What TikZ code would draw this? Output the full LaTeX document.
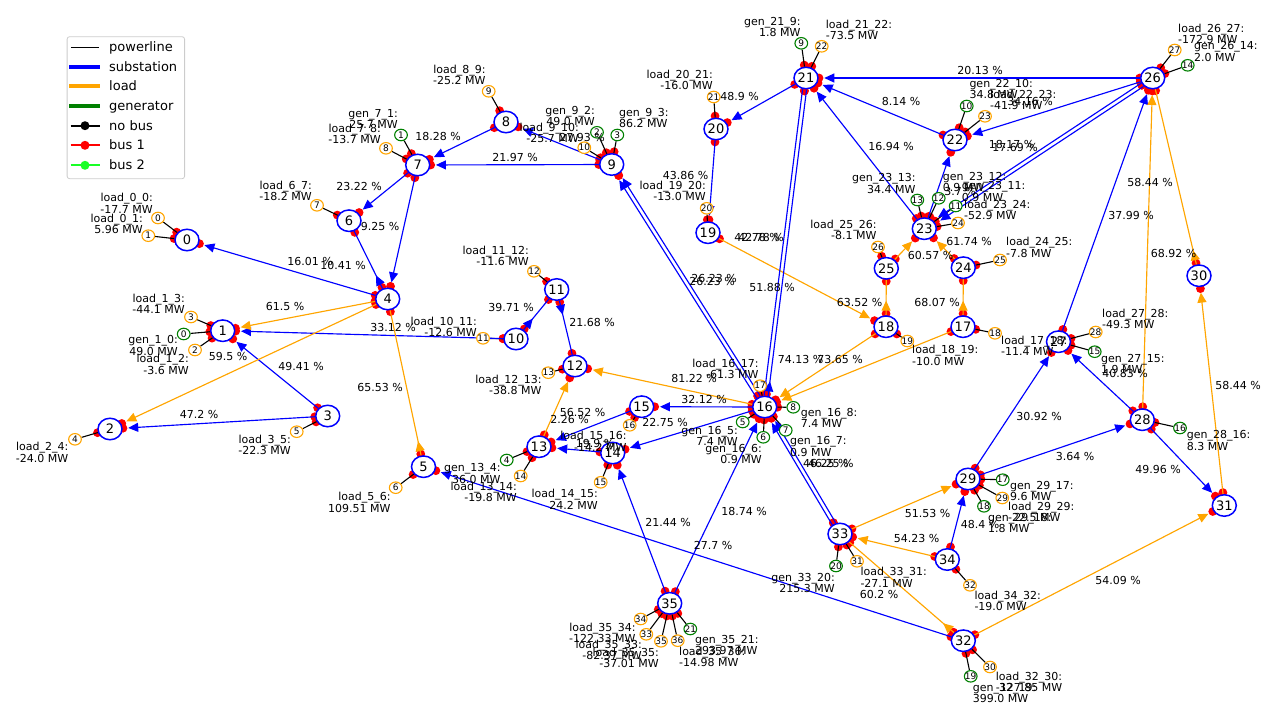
\documentclass[tikz,border=0pt]{standalone}
\usepackage{fontspec}
\setmainfont{DejaVu Sans}
\usetikzlibrary{shapes.geometric,arrows.meta,calc,decorations.markings}
\definecolor{mplorange}{HTML}{FFA500}
\definecolor{mplgreen}{HTML}{008000}
\definecolor{mpllime}{rgb}{0.1,1,0.15}
\definecolor{legendedge}{gray}{0.8}
\pgfdeclarelayer{dotlayer}
\pgfdeclarelayer{edgelayer}
\pgfsetlayers{dotlayer,edgelayer,main}
\newcommand{\cnum}[1]{\raisebox{-0.365em}[0pt][0pt]{\makebox[0pt]{#1}}}
\newcommand{\tielist}{b0/l0,b0/l1,b1/l3,b1/g0,b1/l2,b2/l4,b3/l5,b5/l6,b6/l7,b7/g1,b7/l8,b8/l9,b9/g2,b9/g3,b9/l10,b10/l11,b11/l12,b12/l13,b13/g4,b13/l14,b14/l15,b15/l16,b16/g5,b16/g6,b16/g7,b16/g8,b16/l17,b17/l18,b18/l19,b19/l20,b20/l21,b21/g9,b21/l22,b22/g10,b22/l23,b23/g11,b23/g12,b23/g13,b23/l24,b24/l25,b25/l26,b26/l27,b26/g14,b27/l28,b27/g15,b28/g16,b29/g17,b29/g18,b29/l29,b32/l30,b32/g19,b33/g20,b33/l31,b34/l32,b35/l33,b35/l34,b35/l35,b35/l36,b35/g21}
\newcommand{\singlelist}{b4/b0/blue/headfwd,b10/b1/blue/headfwd,b3/b1/blue/headfwd,b3/b2/blue/headfwd,b6/b4/blue/headrev,b7/b4/blue/headfwd,b7/b6/blue/headfwd,b8/b7/blue/headfwd,b9/b7/blue/headfwd,b9/b8/blue/headfwd,b11/b10/blue/headrev,b12/b11/blue/headrev,b15/b13/blue/headfwd,b14/b13/blue/headfwd,b16/b15/blue/headfwd,b16/b14/blue/headfwd,b35/b14/blue/headfwd,b35/b16/blue/headfwd,b32/b5/blue/headfwd,b23/b21/blue/headfwd,b22/b21/blue/headfwd,b26/b21/blue/headfwd,b21/b20/blue/headfwd,b20/b19/blue/headfwd,b26/b22/blue/headfwd,b23/b22/blue/headfwd,b27/b26/blue/headfwd,b29/b27/blue/headfwd,b28/b27/blue/headfwd,b29/b28/blue/headfwd,b28/b31/blue/headfwd,b34/b29/blue/headfwd,b4/b1/mplorange/headfwd,b4/b2/mplorange/headfwd,b4/b5/mplorange/headrev,b16/b12/mplorange/headfwd,b13/b12/mplorange/headfwd,b18/b16/mplorange/headfwd,b17/b16/mplorange/headfwd,b19/b18/mplorange/headfwd,b25/b18/mplorange/headrev,b24/b17/mplorange/headrev,b25/b23/mplorange/headfwd,b24/b23/mplorange/headfwd,b28/b26/mplorange/headfwd,b26/b30/mplorange/headrev,b31/b30/mplorange/headfwd,b33/b29/mplorange/headfwd,b34/b33/mplorange/headfwd,b33/b32/mplorange/headrev,b32/b31/mplorange/headfwd}
\newcommand{\pairlist}{b16/b9/headfwd/dblnineA,b16/b9/headfwd/dblnineB,b21/b16/headrev/dbltwoA,b21/b16/headrev/dbltwoB,b26/b23/headfwd/dblsixA,b26/b23/headfwd/dblsixB,b33/b16/headfwd/dblthrA,b33/b16/headfwd/dblthrB}
\tikzset{
  busnode/.style={ellipse,draw=blue,line width=1.5pt,fill=white,inner sep=0pt,minimum width=24pt,minimum height=21.5pt,font=\fontsize{13}{13}\selectfont},
  smallbase/.style={ellipse,line width=1.1pt,fill=white,inner sep=0pt,minimum width=12.7pt,minimum height=11.5pt,font=\fontsize{9}{9}\selectfont},
  smallload/.style={smallbase,draw=mplorange},
  smallgen/.style={smallbase,draw=mplgreen},
  pct/.style={inner sep=0pt,font=\fontsize{11}{11.7}\selectfont,align=center},
  lblright/.style={inner sep=0pt,font=\fontsize{11}{11.7}\selectfont,align=right,anchor=east},
  lblleft/.style={inner sep=0pt,font=\fontsize{11}{11.7}\selectfont,align=left,anchor=west},
  legtext/.style={inner sep=0pt,anchor=base west,yshift=-4.6pt,font=\fontsize{13}{13}\selectfont},
  flowline/.style={line width=1.15pt},
  headfwd/.style={flowline,shorten >=5.5pt,-{Triangle[length=10pt,width=9pt]}},
  headrev/.style={flowline,postaction={decorate,decoration={markings,mark=at position -14.5pt with {\arrowreversed{Triangle[length=10pt,width=9pt]}}}}},
  tiecon/.style={line width=1.1pt,black},
  dotmark/.style={fill=red},
  dblnineA/.style={transform canvas={xshift=1.7pt,yshift=1.07pt}},
  dblnineB/.style={transform canvas={xshift=-1.7pt,yshift=-1.07pt}},
  dbltwoA/.style={transform canvas={xshift=2pt,yshift=-0.25pt}},
  dbltwoB/.style={transform canvas={xshift=-2pt,yshift=0.25pt}},
  dblsixA/.style={transform canvas={xshift=1.1pt,yshift=-1.67pt}},
  dblsixB/.style={transform canvas={xshift=-1.1pt,yshift=1.67pt}},
  dblthrA/.style={transform canvas={xshift=1.72pt,yshift=1.02pt}},
  dblthrB/.style={transform canvas={xshift=-1.72pt,yshift=-1.02pt}},
}
\begin{document}
\begin{tikzpicture}[x=1pt,y=-1pt]
\useasboundingbox (0,0) rectangle (1280,720);
% buses
\foreach \n/\x/\y in {0/187/240,1/222.7/330.7,2/110/429,3/327.7/416,4/387.7/299,5/423.5/466.7,6/349/220.7,7/417.7/165,8/506/122,9/611.7/164.5,10/516/339,11/556.7/289.5,12/575/366,13/539/446.7,14/612.7/453,15/641.7/406.7,16/764.7/407,17/963/326.7,18/886/326.7,19/708/232.7,20/716/129,21/806/78,22/955/140,23/924.3/228.7,24/963.3/267.7,25/886.3/268.3,26/1152.7/78,27/1058.5/341.7,28/1142.3/419.7,29/968/479,30/1199/275.7,31/1224.3/505.5,32/963.3/640.7,33/840/534,34/947.3/559.5,35/669.7/603.3}
  \node[busnode] (b\n) at (\x,\y) {\cnum{\n}};
% load boxes
\foreach \n/\x/\y in {0/158/218,1/148.3/235.7,2/195/350,3/191/317,4/75/439.3,5/296.7/431.7,6/395.7/487.7,7/317/205.3,8/386/148.3,9/488.7/91.3,10/584.3/147.7,11/483/338.3,12/534/271.3,13/548.3/372.7,14/520.7/476,15/600.7/482.3,16/629.7/425.3,17/760/385.7,18/995/333.3,19/907.3/341,20/706.7/208.3,21/713.7/97,22/821.7/46.3,23/985/116.3,24/958/223,25/1000/260,26/878/247,27/1174.7/50,28/1095.7/332,29/1002.3/498,30/990/667,31/857/561.3,32/970/585.3,33/646.3/634.3,34/640.7/619,35/661/641.3,36/677.7/640.7}
  \node[smallload] (l\n) at (\x,\y) {\cnum{\n}};
% generator boxes
\foreach \n/\x/\y in {0/183.7/334,1/401/135,2/597/132.3,3/617.3/135,4/506.7/460,5/742.7/422,6/763.3/437.3,7/785.7/430.3,8/793.3/407.3,9/801.3/43.3,10/966.7/106,11/955.7/206,12/938.7/198.3,13/917.3/200,14/1187.7/65.3,15/1094.7/351.7,16/1180/428,17/1002.7/479.7,18/984/506.3,19/970.7/676.3,20/836/566,21/690.3/629}
  \node[smallgen] (g\n) at (\x,\y) {\cnum{\n}};
% red bus dots, lowest layer
\begin{pgfonlayer}{dotlayer}
\foreach \a/\b in \tielist {\fill[dotmark] ($(\a)!13pt!(\b)$) circle[radius=4.4pt];}
\foreach \a/\b/\c/\k in \singlelist {\fill[dotmark] ($(\a)!13pt!(\b)$) circle[radius=4.4pt];\fill[dotmark] ($(\b)!13pt!(\a)$) circle[radius=4.4pt];}
\foreach \a/\b/\k/\o in \pairlist {\fill[dotmark] ($(\a)!13pt!(\b)$) circle[radius=4.4pt];\fill[dotmark] ($(\b)!13pt!(\a)$) circle[radius=4.4pt];}
\end{pgfonlayer}
% connectors
\begin{pgfonlayer}{edgelayer}
\foreach \a/\b in \tielist {\draw[tiecon] (\a) -- (\b);}
\foreach \a/\b/\c/\k in \singlelist {\draw[\k,draw=\c,color=\c] (\a) -- (\b);}
\foreach \a/\b/\k/\o in \pairlist {\draw[\k,\o,blue] (\a) -- (\b);}
\end{pgfonlayer}
% flow percentages
\foreach \x/\y/\T [count=\n] in {310/261/16.01 \%,343/265/10.41 \%,380/226/9.25 \%,359/186/23.22 \%,438/136.5/18.28 \%,515/157.5/21.97 \%,582/137/27.93 \%,285/306/61.5 \%,393/327/33.12 \%,228/356/59.5 \%,301/366/49.41 \%,380/387/65.53 \%,199/414/47.2 \%,511/307.3/39.71 \%,592/322/21.68 \%,582.7/412/56.52 \%,569.7/419/2.26 \%,665/422/22.75 \%,704/399/32.12 \%,694/378/81.22 \%,595/443/19.9 \%,668/522/21.44 \%,744/511/18.74 \%,713/545/27.7 \%,825.8/463/46.25 \%,830.8/463/46.25 \%,800.7/359/74.13 \%,840/359/73.65 \%,714/278/26.23 \%,712/281/26.23 \%,757/237/42.78 \%,761/237/42.78 \%,772/287/51.88 \%,859.7/302/63.52 \%,937/302/68.07 \%,930.7/255/60.57 \%,969/241/61.74 \%,891/146/16.94 \%,901/101/8.14 \%,980/70/20.13 \%,1011.7/144.3/18.17 \%,1015/147.3/17.69 \%,960/191/3.7 \%,1030/101/34.16 \%,739.5/96/48.9 \%,685.7/175/43.86 \%,1150/182/58.44 \%,1131/215/37.99 \%,1173.7/253/68.92 \%,1125/373/40.83 \%,1039/416/30.92 \%,1075/456/3.64 \%,1158/469/49.96 \%,927.7/513/51.53 \%,980/524/48.4 \%,916.7/538/54.23 \%,879/594/60.2 \%,1118/580/54.09 \%,1238/385/58.44 \%}
  \node[pct] (p\n) at (\x,\y) {\T};
% labels right of their anchor point, right aligned
\foreach \x/\y/\T [count=\n] in {153/203/{load\_0\_0:\\-17.7 MW},143/224/{load\_0\_1:\\5.96 MW},312/191/{load\_6\_7:\\-18.2 MW},398/119/{gen\_7\_1:\\25.7 MW},381/134/{load\_7\_8:\\-13.7 MW},185/303.7/{load\_1\_3:\\-44.1 MW},178/345.7/{gen\_1\_0:\\49.0 MW},189/364.7/{load\_1\_2:\\-3.6 MW},68.5/452.7/{load\_2\_4:\\-24.0 MW},291/445/{load\_3\_5:\\-22.3 MW},390.7/502.7/{load\_5\_6:\\109.51 MW},485.7/75/{load\_8\_9:\\-25.2 MW},595/116/{gen\_9\_2:\\49.0 MW},579/133/{load\_9\_10:\\-25.7 MW},713/80/{load\_20\_21:\\-16.0 MW},706/191/{load\_19\_20:\\-13.0 MW},529/256/{load\_11\_12:\\-11.6 MW},477/327/{load\_10\_11:\\-12.6 MW},541.7/385/{load\_12\_13:\\-38.8 MW},500.7/473.7/{gen\_13\_4:\\36.0 MW},517/492/{load\_13\_14:\\-19.8 MW},626.7/441/{load\_15\_16:\\-14.2 MW},598/499/{load\_14\_15:\\24.2 MW},738/436/{gen\_16\_5:\\7.4 MW},762/454/{gen\_16\_6:\\0.9 MW},758.7/369/{load\_16\_17:\\-61.3 MW},800.7/27/{gen\_21\_9:\\1.8 MW},915.7/183.3/{gen\_23\_13:\\34.4 MW},876.7/230/{load\_25\_26:\\-8.1 MW},835/583/{gen\_33\_20:\\215.3 MW},635.7/633/{load\_35\_34:\\-122.33 MW},642/650/{load\_35\_33:\\-82.37 MW},659/658/{load\_35\_35:\\-37.01 MW}}
  \node[lblright] (r\n) at (\x,\y) {\T};
% labels left aligned
\foreach \x/\y/\T [count=\n] in {619/118/{gen\_9\_3:\\86.2 MW},800.7/418/{gen\_16\_8:\\7.4 MW},790/446.7/{gen\_16\_7:\\0.9 MW},825.7/30/{load\_21\_22:\\-73.5 MW},969.3/89/{gen\_22\_10:\\34.8 MW},990/100/{load\_22\_23:\\-41.9 MW},942.7/182/{gen\_23\_12:\\0.9 MW},961.7/191.3/{gen\_23\_11:\\0.9 MW},964/210/{load\_23\_24:\\-52.9 MW},1006/247.7/{load\_24\_25:\\-7.8 MW},1178/34/{load\_26\_27:\\-172.9 MW},1194/51.7/{gen\_26\_14:\\2.0 MW},1102/319/{load\_27\_28:\\-49.3 MW},1101/364/{gen\_27\_15:\\1.9 MW},1001/345.7/{load\_17\_18:\\-11.4 MW},912/355.7/{load\_18\_19:\\-10.0 MW},1186.7/440.7/{gen\_28\_16:\\8.3 MW},1010/491/{gen\_29\_17:\\9.6 MW},1008/512/{load\_29\_29:\\-22.5 MW},988/523/{gen\_29\_18:\\1.8 MW},860.3/577/{load\_33\_31:\\-27.1 MW},974.3/601/{load\_34\_32:\\-19.0 MW},995.7/682/{load\_32\_30:\\-127.85 MW},972.7/693/{gen\_32\_19:\\399.0 MW},679/657/{load\_35\_36:\\-14.98 MW},695/645/{gen\_35\_21:\\293.97 MW}}
  \node[lblleft] (s\n) at (\x,\y) {\T};
% legend
\node[draw=legendedge,line width=0.8pt,rounded corners=2.5pt,fill=white,minimum width=117.5pt,minimum height=142pt,inner sep=0pt,anchor=north west] (legendbox) at (66.7,36.3) {};
\foreach \n/\y/\T in {a/47.3/powerline,b/66.7/substation,c/86.3/load,d/106/generator,e/125.7/no bus,f/145.3/bus 1,g/165.3/bus 2}
  \node[legtext] (leg\n) at (109,\y) {\T};
\draw[line width=1.1pt,black] (71,47.3) -- (99,47.3);
\draw[line width=4pt,blue] (69,66.7) -- (100,66.7);
\draw[line width=4pt,mplorange] (69,86.3) -- (100,86.3);
\draw[line width=4pt,mplgreen] (69,106) -- (100,106);
\draw[line width=1.9pt,black] (70.5,125.7) -- (99.5,125.7);
\fill[black] (85,125.7) circle[radius=4.5pt];
\draw[line width=1.9pt,red] (70.5,145.3) -- (99.5,145.3);
\fill[red] (85,145.3) circle[radius=4.5pt];
\draw[line width=1.9pt,mpllime] (70.5,165.3) -- (99.5,165.3);
\fill[mpllime] (85,165.3) circle[radius=4.5pt];
\end{tikzpicture}
\end{document}
